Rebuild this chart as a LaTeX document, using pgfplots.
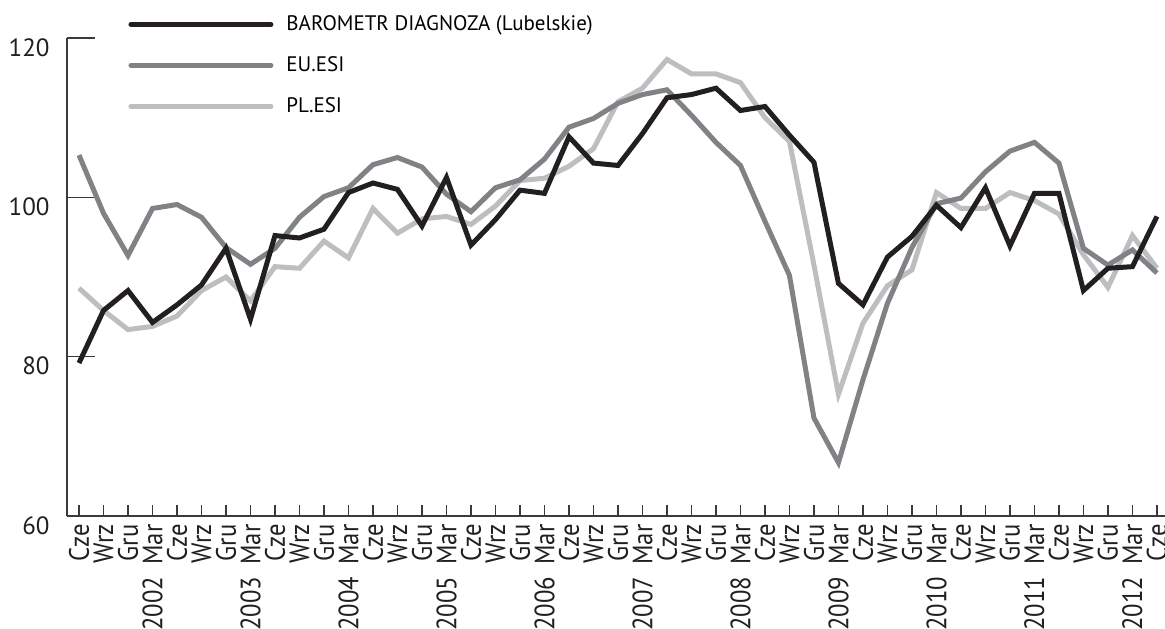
\documentclass[border=0pt]{standalone}
\usepackage{fontspec}
\setmainfont{PT Sans}
\usepackage{pgfplots}
\usepackage{pgfplotstable}
\pgfplotsset{compat=1.18}

\definecolor{cbar}{HTML}{231F20}
\definecolor{ceu}{HTML}{808285}
\definecolor{cpl}{HTML}{BCBEC0}
\definecolor{cax}{HTML}{3A3A3A}

% quarterly readings, Cze 2001 .. Cze 2012
\pgfplotstableread{
idx bar eu pl
0 79.2 105.3 88.6
1 85.8 98.0 85.8
2 88.3 92.7 83.4
3 84.3 98.6 83.8
4 86.5 99.1 85.1
5 89.0 97.5 88.3
6 93.6 93.7 90.0
7 84.7 91.6 87.0
8 95.2 93.6 91.3
9 94.9 97.5 91.1
10 96.0 100.1 94.5
11 100.6 101.2 92.4
12 101.8 104.1 98.6
13 101.0 105.0 95.5
14 96.4 103.8 97.3
15 102.5 100.4 97.6
16 94.0 98.2 96.6
17 97.2 101.2 98.9
18 100.9 102.2 102.1
19 100.5 104.8 102.4
20 107.6 108.8 103.9
21 104.3 109.9 106.1
22 104.0 111.8 112.0
23 108.0 112.9 113.7
24 112.5 113.5 117.3
25 112.9 110.3 115.5
26 113.7 106.9 115.5
27 110.9 104.0 114.4
28 111.4 97.0 110.0
29 107.8 90.2 107.0
30 104.4 72.3 91.5
31 89.2 66.7 75.3
32 86.5 77.1 84.2
33 92.5 86.7 88.9
34 95.1 93.7 90.9
35 99.0 99.2 100.6
36 96.2 99.9 98.6
37 101.2 103.2 98.6
38 93.9 105.8 100.6
39 100.5 106.9 99.6
40 100.5 104.3 97.9
41 88.3 93.6 92.8
42 91.1 91.5 88.7
43 91.3 93.4 95.2
44 97.6 90.5 91.1
}\data

\newcommand{\sx}[1]{\scalebox{0.88}[1]{#1}}
\newcommand{\yr}[1]{\sx{#1\hspace{7pt}Mar}}

\begin{document}
\begin{tikzpicture}
\useasboundingbox (-33.5pt,-56pt) rectangle (549pt,258pt);
\begin{axis}[at={(0pt,0pt)},anchor=south west,
	scale only axis,width=549pt,height=239pt,
	xmin=-0.49,xmax=44.33,ymin=60,ymax=120,
	axis lines=left,axis line style={-,draw=cax,line width=0.75pt},
	tick align=inside,
	xtick={0,...,44},ytick={60,80,100,120},
	xtick style={draw=cax,line width=0.75pt,/pgfplots/major tick length=5.5pt},
	ytick style={draw=cax,line width=0.75pt,/pgfplots/major tick length=14pt},
	xticklabels={\sx{Cze},\sx{Wrz},\sx{Gru},\yr{2002},\sx{Cze},\sx{Wrz},\sx{Gru},\yr{2003},
		\sx{Cze},\sx{Wrz},\sx{Gru},\yr{2004},\sx{Cze},\sx{Wrz},\sx{Gru},\yr{2005},
		\sx{Cze},\sx{Wrz},\sx{Gru},\yr{2006},\sx{Cze},\sx{Wrz},\sx{Gru},\yr{2007},
		\sx{Cze},\sx{Wrz},\sx{Gru},\yr{2008},\sx{Cze},\sx{Wrz},\sx{Gru},\yr{2009},
		\sx{Cze},\sx{Wrz},\sx{Gru},\yr{2010},\sx{Cze},\sx{Wrz},\sx{Gru},\yr{2011},
		\sx{Cze},\sx{Wrz},\sx{Gru},\yr{2012},\sx{Cze}},
	xticklabel style={rotate=90,anchor=east,inner sep=0pt,font=\fontsize{14}{16}\selectfont,text=cbar},
	xticklabel shift=4pt,
	yticklabel style={anchor=north east,inner sep=0pt,xshift=-8.5pt,font=\fontsize{12.5}{14}\selectfont,text=cbar},
	/pgf/number format/assume math mode=true,
	legend image code/.code={\draw[#1,line cap=round] (0pt,0pt) -- (70pt,0pt);},
	legend style={draw=none,fill=none,at={(rel axis cs:0.0556,1.048)},anchor=north west,
		font=\fontsize{10.5}{12}\selectfont,row sep=11.5pt,column sep=6.5pt,inner sep=0pt,
		nodes={inner sep=0pt}},
	legend cell align=left,
	every axis plot/.append style={line width=2.5pt,miter limit=4},
]
\addlegendimage{cbar,line width=2.5pt}
\addlegendentry{BAROMETR DIAGNOZA (Lubelskie)}
\addlegendimage{ceu,line width=2.5pt}
\addlegendentry{EU.ESI}
\addlegendimage{cpl,line width=2.5pt}
\addlegendentry{PL.ESI}
\addplot[cpl,forget plot] table[x=idx,y=pl]{\data};
\addplot[ceu,forget plot] table[x=idx,y=eu]{\data};
\addplot[cbar,forget plot] table[x=idx,y=bar]{\data};
\end{axis}
\end{tikzpicture}
\end{document}
